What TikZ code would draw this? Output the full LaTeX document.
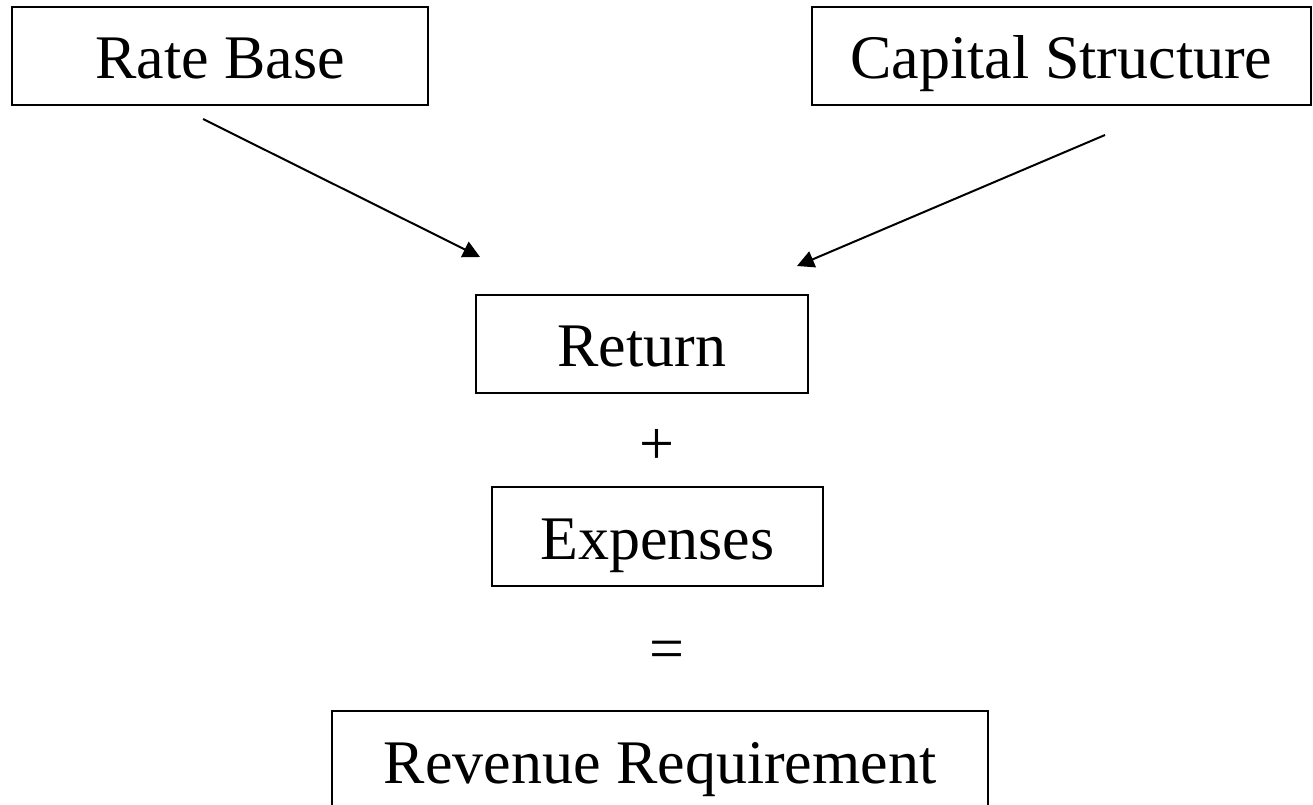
\documentclass[tikz,border=0pt]{standalone}
\usepackage{fontspec}
\setmainfont{Liberation Serif}
\usetikzlibrary{arrows.meta}

\begin{document}
\begin{tikzpicture}[
			x = 1pt, y = 1pt,
			every node/.style = {font = \fontsize{62}{74}\selectfont},
			block/.style = {draw, line width = 1.6pt, inner sep = 0pt, text height = 46pt, text depth = 0pt},
			link/.style = {line width = 2pt, -{Triangle[length=17pt,width=17pt]}}
			]

			\clip (0,0) rectangle (1313,804);

			\node[block, minimum width = 416pt, minimum height = 98pt] (rate) at (220,748) {Rate Base};
			\node[block, minimum width = 499pt, minimum height = 98pt] (capital) at (1061.5,748) {Capital Structure};
			\node[block, minimum width = 332pt, minimum height = 98pt] (return) at (642,460) {Return};
			\node (plus) at (657,357) {+};
			\node[block, minimum width = 331pt, minimum height = 99pt] (expenses) at (657.5,267.5) {Expenses};
			\node (equals) at (667,149) {=};
			\node[block, minimum width = 656pt, minimum height = 98pt] (revenue) at (660,44) {Revenue Requirement};

			\coordinate (rateout) at (203,685);
			\coordinate (retleft) at (480,547);
			\coordinate (capout) at (1105,669);
			\coordinate (retright) at (797,538);

			\draw[link] (rateout) -- (retleft);
			\draw[link] (capout) -- (retright);

		\end{tikzpicture}
\end{document}
